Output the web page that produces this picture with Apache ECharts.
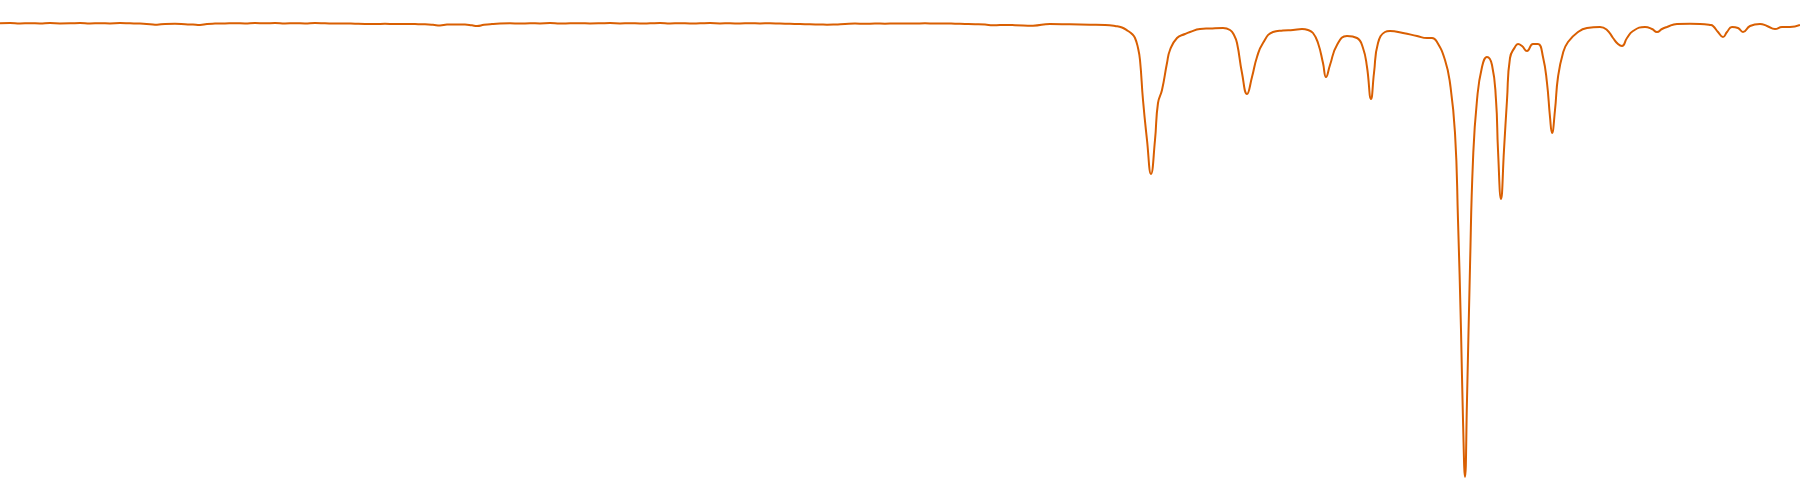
<!DOCTYPE html>
<html>
<head>
<meta charset="utf-8">
<script src="https://cdn.jsdelivr.net/npm/echarts@6/dist/echarts.min.js"></script>
<style>html,body{margin:0;padding:0;background:#fff}#c{width:1800px;height:500px}</style>
</head>
<body>
<div id="c"></div>
<script>
// Wavenumber (cm^-1)
const wavenumbers = [4000,3980,3960,3940,3920,3900,3880,3860,3840,3820,3800,3780,3760,3740,3720,3700,3686,3670,3650,3630,3614,3600,3586,3570,3550,3530,3510,3490,3470,3450,3430,3410,3390,3370,3350,3330,3310,3290,3270,3250,3230,3210,3190,3170,3150,3134,3120,3106,3090,3070,3056,3046,3032,3016,3000,2980,2960,2940,2920,2900,2880,2860,2840,2820,2800,2780,2760,2740,2720,2700,2680,2660,2640,2620,2600,2580,2560,2540,2520,2500,2480,2460,2440,2420,2400,2380,2360,2346,2330,2310,2290,2270,2250,2230,2210,2190,2170,2150,2130,2110,2090,2070,2050,2030,2014,2000,1970,1934,1900,1860,1820,1790,1770,1756,1744,1736,1730,1724,1720,1714,1706,1698,1690,1684,1676,1666,1660,1646,1630,1620,1600,1580,1554,1540,1532,1526,1516,1506,1496,1486,1474,1454,1434,1414,1396,1384,1374,1364,1354,1348,1340,1326,1306,1286,1274,1266,1258,1252,1244,1230,1220,1194,1166,1146,1136,1126,1110,1100,1090,1084,1078,1074,1070,1066,1060,1054,1046,1036,1026,1016,1008,1004,998,992,986,980,970,964,956,946,934,924,914,906,900,896,890,884,874,864,844,826,800,786,774,764,756,746,734,710,696,686,676,666,646,620,600,580,574,564,554,546,536,524,514,500,480,466,450,436,420,400];
// Transmittance (%)
const transmittance = [99.87,99.94,99.85,99.90,99.83,99.92,99.85,99.87,99.94,99.83,99.90,99.85,99.92,99.87,99.81,99.68,99.57,99.74,99.76,99.68,99.59,99.50,99.72,99.81,99.85,99.90,99.83,99.92,99.87,99.94,99.85,99.90,99.83,99.92,99.87,99.81,99.85,99.79,99.74,99.72,99.76,99.70,99.72,99.70,99.65,99.54,99.39,99.59,99.63,99.61,99.43,99.28,99.54,99.72,99.83,99.87,99.81,99.90,99.85,99.92,99.83,99.87,99.90,99.85,99.87,99.92,99.85,99.90,99.83,99.87,99.94,99.85,99.90,99.83,99.87,99.92,99.85,99.87,99.83,99.90,99.85,99.87,99.81,99.76,99.72,99.65,99.61,99.57,99.61,99.72,99.81,99.76,99.83,99.79,99.85,99.81,99.83,99.87,99.81,99.83,99.79,99.74,99.68,99.59,99.43,99.50,99.46,99.35,99.72,99.65,99.57,99.50,99.28,98.95,98.18,97.52,96.64,94.44,91.80,83.00,74.20,66.72,74.20,82.34,85.20,91.14,94.00,96.64,97.52,97.96,98.62,98.73,98.84,98.40,97.30,95.54,88.94,84.32,88.06,92.46,95.54,97.96,98.29,98.40,98.62,98.40,97.74,95.54,91.14,88.06,90.70,95.10,97.08,96.64,94.44,90.26,83.22,88.94,95.54,97.96,98.18,97.74,97.08,96.64,96.64,95.76,91.80,86.74,75.74,56.60,32.40,12.60,0.06,17.00,46.26,69.80,83.00,90.26,92.46,90.70,83.00,72.00,61.22,72.00,83.00,92.24,94.66,95.32,94.88,93.78,95.32,95.32,92.46,86.74,79.26,75.74,80.80,88.06,93.34,95.76,97.96,98.84,99.06,98.40,96.64,95.32,94.88,96.64,98.18,99.06,98.62,97.96,98.62,99.06,99.72,99.76,99.72,99.50,99.28,97.96,96.86,97.96,99.06,98.84,97.96,99.28,99.72,99.28,98.62,99.06,99.06,99.50];

const seriesData = wavenumbers.map((w, i) => [w, transmittance[i]]);

const chart = echarts.init(document.getElementById('c'), null, {renderer: 'canvas'});
chart.setOption({
  animation: false,
  backgroundColor: '#ffffff',
  grid: {left: 0, right: 0, top: 0, bottom: 0},
  xAxis: {type: 'value', min: 400, max: 4000, inverse: true, show: false},
  yAxis: {type: 'value', min: -5, max: 105, show: false},
  series: [{
    type: 'line',
    data: seriesData,
    showSymbol: false,
    smooth: 0.5,
    lineStyle: {color: '#d95f02', width: 2},
    itemStyle: {color: '#d95f02'}
  }]
});
</script>
</body>
</html>
